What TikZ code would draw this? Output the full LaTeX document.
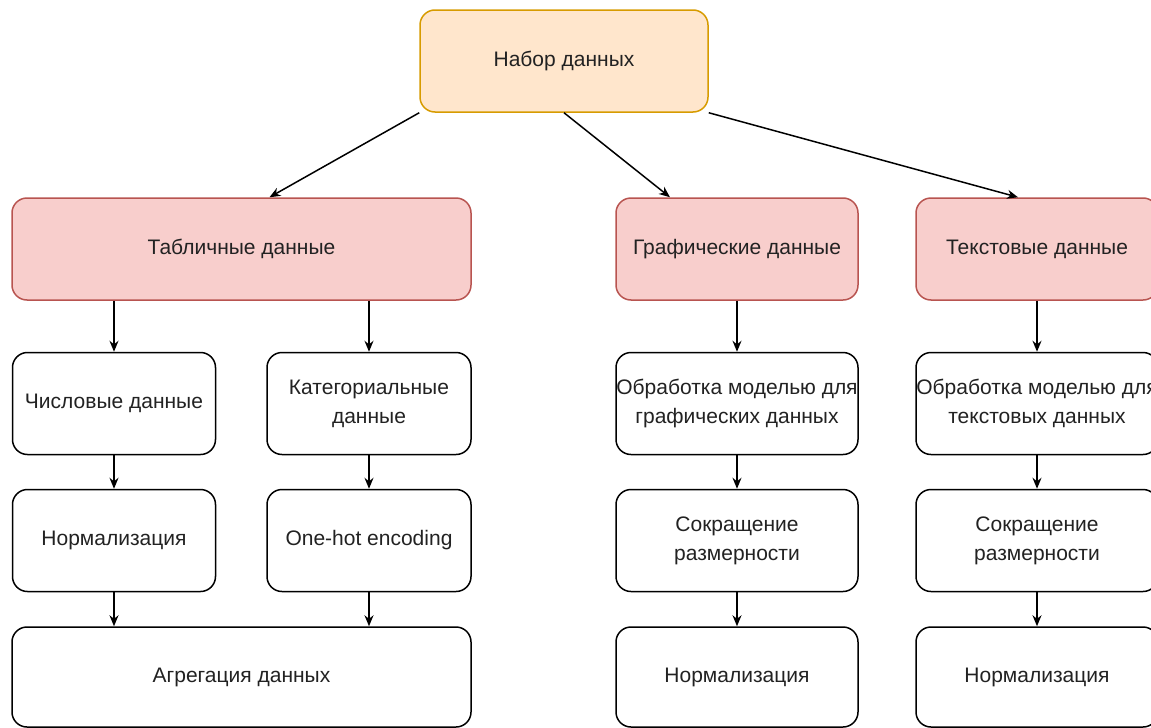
\documentclass[tikz,border=0pt]{standalone}
\usepackage{fontspec}
\setmainfont{Liberation Sans}
\usetikzlibrary{arrows.meta,positioning}
\definecolor{bronvul}{HTML}{FFE6CC}
\definecolor{bronrand}{HTML}{D79B00}
\definecolor{soortvul}{HTML}{F8CECC}
\definecolor{soortrand}{HTML}{B85450}
\definecolor{tekstkleur}{HTML}{222222}

\begin{document}
\begin{tikzpicture}[x=1pt, y=-1pt, >={Stealth[length=11pt,width=9pt]},
	blok/.style={draw, rounded corners=15pt, line width=1.5pt, align=center, inner sep=0pt,
		minimum height=102pt, text=tekstkleur, font=\fontsize{21}{29}\selectfont},
	bron/.style={blok, fill=bronvul, draw=bronrand, minimum width=288pt},
	soort/.style={blok, fill=soortvul, draw=soortrand},
	stap/.style={blok, fill=white},
	pijl/.style={->, line width=1.5pt}]
		\useasboundingbox (0,0) rectangle (1151,728);

		% Набор данных
		\node[bron] (dataset) at (564,61) {Набор данных};

		% Типы данных
		\node[soort, minimum width=459pt] (tab) at (241.5,249) {Табличные данные};
		\node[soort, minimum width=242pt] (graf) at (737,249) {Графические данные};
		\node[soort, minimum width=242pt] (tekst) at (1037,249) {Текстовые данные};

		% Табличная ветка
		\node[stap, minimum width=203pt] (num) at (114,403.5) {Числовые данные};
		\node[stap, minimum width=204pt] (cat) at (369,403.5) {Категориальные\\данные};
		\node[stap, minimum width=203pt] (norm) at (114,540.5) {Нормализация};
		\node[stap, minimum width=204pt] (onehot) at (369,540.5) {One-hot encoding};
		\node[stap, minimum width=459pt, minimum height=100pt] (agg) at (241.5,677) {Агрегация данных};

		% Графическая ветка
		\node[stap, minimum width=242pt] (grafmod) at (737,403.5) {Обработка моделью для\\графических данных};
		\node[stap, minimum width=242pt] (grafred) at (737,540.5) {Сокращение\\размерности};
		\node[stap, minimum width=242pt, minimum height=100pt] (grafnorm) at (737,677) {Нормализация};

		% Текстовая ветка
		\node[stap, minimum width=242pt] (tekstmod) at (1037,403.5) {Обработка моделью для\\текстовых данных};
		\node[stap, minimum width=242pt] (tekstred) at (1037,540.5) {Сокращение\\размерности};
		\node[stap, minimum width=242pt, minimum height=100pt] (tekstnorm) at (1037,677) {Нормализация};

		% Стрелки
		\draw[pijl] (dataset.south west) -- ([xshift=28pt]tab.north);
		\draw[pijl] (dataset.south) -- ([xshift=-67pt]graf.north);
		\draw[pijl] (dataset.south east) -- ([xshift=-19pt]tekst.north);

		\draw[pijl] (num.north |- tab.south) -- (num.north);
		\draw[pijl] (cat.north |- tab.south) -- (cat.north);
		\draw[pijl] (num) -- (norm);
		\draw[pijl] (cat) -- (onehot);
		\draw[pijl] (norm.south) -- (norm.south |- agg.north);
		\draw[pijl] (onehot.south) -- (onehot.south |- agg.north);

		\draw[pijl] (graf) -- (grafmod);
		\draw[pijl] (grafmod) -- (grafred);
		\draw[pijl] (grafred) -- (grafnorm);

		\draw[pijl] (tekst) -- (tekstmod);
		\draw[pijl] (tekstmod) -- (tekstred);
		\draw[pijl] (tekstred) -- (tekstnorm);
	\end{tikzpicture}
\end{document}
